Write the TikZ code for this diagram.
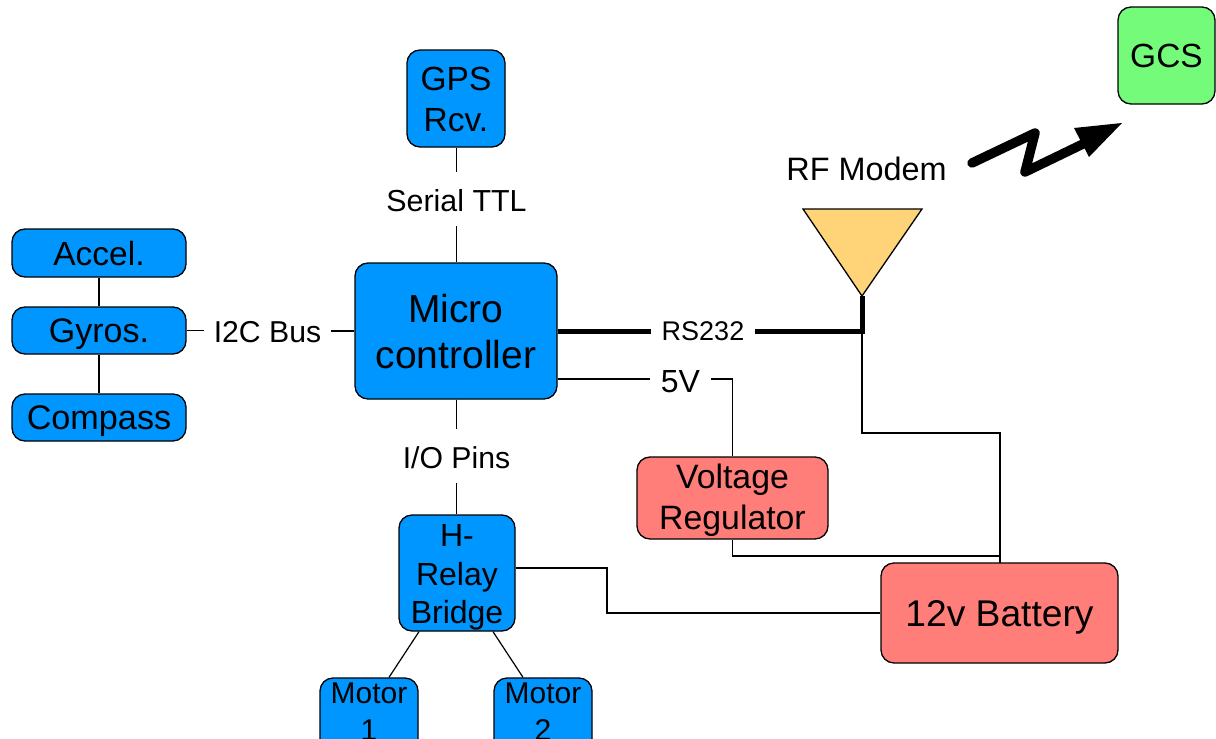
\documentclass[tikz,border=0pt]{standalone}
\usepackage{fontspec}
\setmainfont{Liberation Sans}
\usetikzlibrary{calc}
\definecolor{blu}{HTML}{0096FF}
\definecolor{redb}{HTML}{FF7E79}
\definecolor{grn}{HTML}{73FB79}
\definecolor{ant}{HTML}{FFD479}
\newcommand{\fs}[2]{\fontsize{#1}{#2}\selectfont}
\newcommand{\topsp}[1]{\rule{0pt}{#1}}
\tikzset{
  box/.style={draw=black,line width=1.3pt,rounded corners=13pt,inner sep=0pt,align=center,text=black},
  bluebox/.style={box,fill=blu},
  redbox/.style={box,fill=redb},
  lab/.style={inner xsep=11pt,inner ysep=0pt,align=center},
  oneline/.style={text depth=0pt,text height=#1},
  wire/.style={line width=1.2pt,draw=black},
  bus/.style={line width=5pt,draw=black}
}
\begin{document}
\begin{tikzpicture}[x=1pt,y=-1pt]
\useasboundingbox (0,0) rectangle (1216,739);
\clip (0,0) rectangle (1216,739);
\fill[white] (0,0) rectangle (1216,739);
% labels
\node[lab,oneline=24.5pt,minimum height=54pt,font=\fs{30.4}{36}] (serial) at (456.5,199) {Serial TTL};
\node[lab,oneline=22.5pt,inner xsep=10pt,font=\fs{30.2}{36}] (i2c) at (267.5,331) {I2C Bus};
\node[lab,oneline=24.5pt,minimum height=54pt,font=\fs{30.2}{36}] (io) at (456.5,456) {I/O Pins};
\node[lab,font=\fs{27}{32}] (rs) at (703,331) {RS232};
\node[lab,oneline=26pt,font=\fs{32}{38}] (fivev) at (680.5,379) {5V};
\node[font=\fs{32.4}{38},inner sep=0pt] (rf) at (866.5,169) {RF Modem};
% antenna
\coordinate (anttip) at (862,296);
\coordinate (antl) at (803,209);
\coordinate (antr) at (922,209);
% wires
\draw[wire] (anttip) -- ++(0,137) -| (1000,563) coordinate (batin);
\draw[bus] (rs.east) -- (862,331) -- (anttip);
\node[bluebox,minimum width=202pt,minimum height=136pt,font=\fs{39}{46.5}] (micro) at (456,331) {\topsp{29.5pt}Micro\\controller};
\draw[bus] (micro.east |- rs) -- (rs.west);
\draw[wire] (micro.east |- fivev) -- (fivev.west);
\node[redbox,minimum width=191pt,minimum height=82pt,font=\fs{33.8}{41}] (vreg) at (732.5,498) {\topsp{30pt}Voltage\\Regulator};
\node[redbox,oneline=26.8pt,minimum width=237pt,minimum height=100pt,font=\fs{37.2}{44}] (bat) at (999.5,613) {12v Battery};
\node[bluebox,minimum width=98pt,minimum height=97pt,font=\fs{33.5}{41}] (gps) at (456,98.5) {\topsp{26pt}GPS\\Rcv.};
\node[bluebox,oneline=24.5pt,minimum width=174pt,minimum height=48pt,font=\fs{33.5}{40}] (accel) at (99,253) {Accel.};
\node[bluebox,oneline=24pt,minimum width=174pt,minimum height=47pt,font=\fs{34}{40}] (gyros) at (99,330.5) {Gyros.};
\node[bluebox,oneline=23pt,minimum width=174pt,minimum height=47pt,font=\fs{34.2}{40}] (compass) at (99,417.5) {Compass};
\node[bluebox,minimum width=116pt,minimum height=116pt,font=\fs{32}{38.5}] (hb) at (457,573) {\topsp{31pt}H-\\Relay\\Bridge};
\node[bluebox,minimum width=98pt,minimum height=82pt,font=\fs{30}{37}] (m1) at (369,719) {Motor\\\rule[-14pt]{0pt}{0pt}1};
\node[bluebox,minimum width=98pt,minimum height=82pt,font=\fs{30}{37}] (m2) at (543,719) {Motor\\\rule[-14pt]{0pt}{0pt}2};
\node[box,fill=grn,oneline=23pt,minimum width=97pt,minimum height=97pt,font=\fs{33.5}{40}] (gcs) at (1166.5,55.5) {GCS};
% thin connectors
\draw[wire] (gps.south -| serial) -- (serial);
\draw[wire] (serial) -- (micro.north -| serial);
\draw[wire] (micro.south -| io) -- (io);
\draw[wire] (io) -- (hb.north -| io);
\draw[wire] (accel) -- (gyros);
\draw[wire] (gyros) -- (compass);
\draw[wire] (gyros.east) -- (i2c.west |- gyros.east);
\draw[wire] (i2c.east) -- (micro.west |- i2c);
\draw[wire] (fivev.east) -| (vreg.north);
\draw[wire] (vreg.south) |- (batin |- 0,556);
\draw[wire] (hb.east |- 0,568) -- (607,568) |- (bat.west);
\draw[wire] ([xshift=-38pt]hb.south) -- ([xshift=20pt]m1.north);
\draw[wire] ([xshift=36pt]hb.south) -- ([xshift=-20pt]m2.north);
% antenna triangle
\draw[line width=1.3pt,fill=ant,line join=miter] (antl) -- (antr) -- (anttip) -- cycle;
% lightning
\draw[line width=9.5pt,line cap=round,line join=round] (972,163) -- (1035,133) -- (1025,172) -- (1085,143);
\fill (1122,123) -- (1074,128) -- (1089,157) -- cycle;
\end{tikzpicture}
\end{document}
